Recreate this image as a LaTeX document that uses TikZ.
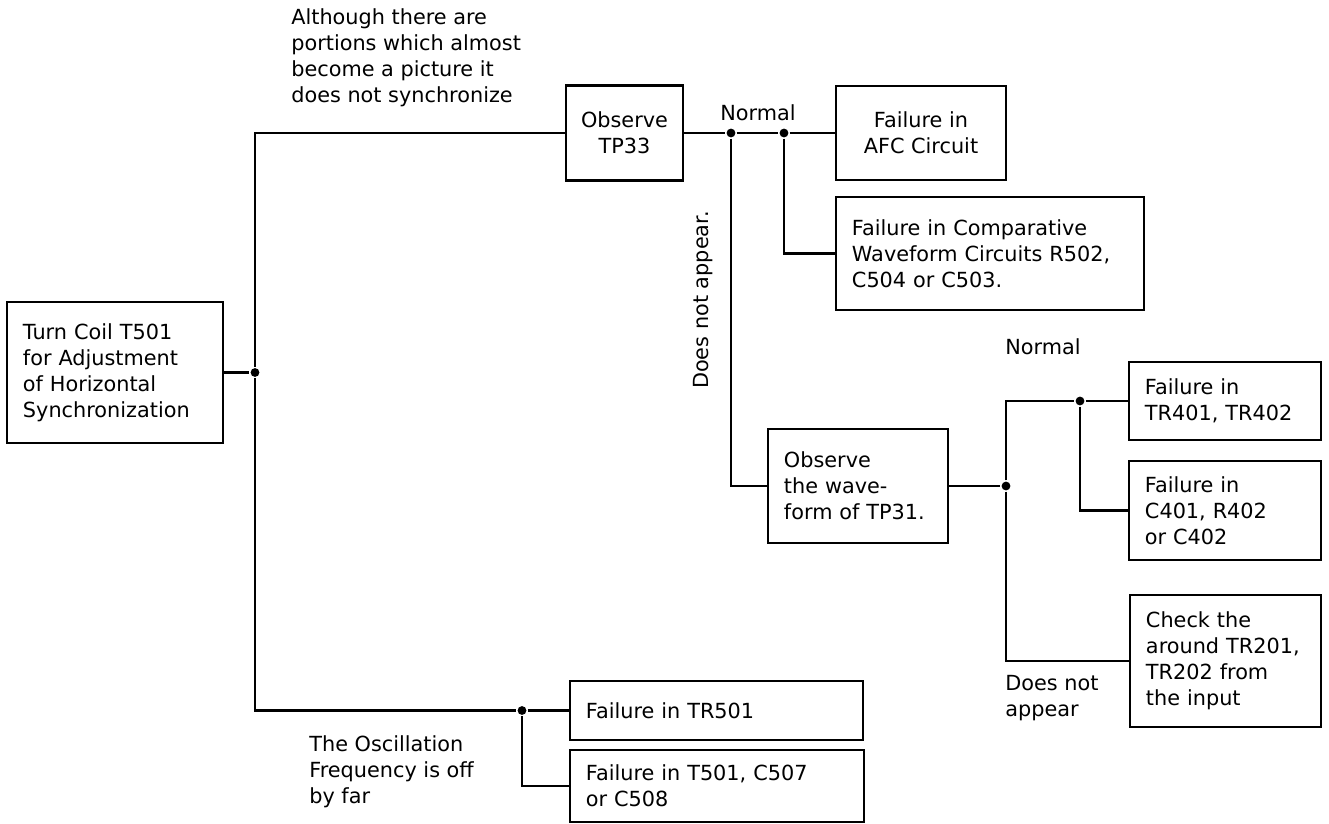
\documentclass[tikz,border=0pt]{standalone}
\usepackage{fontspec}
\setmainfont{DejaVu Sans}
\usetikzlibrary{positioning}
\tikzset{
  every picture/.style = {
    x=0.025cm, y=-0.025cm,
    line width=1.9pt,
    font=\fontsize{14.8}{18.5}\selectfont
  },
  fbox/.style={
    draw,
    inner xsep=0.4cm,
    inner ysep=0pt,
    align=left
  },
  cbox/.style={
    draw,
    inner sep=0pt,
    align=center
  },
  lbl/.style={
    inner sep=0pt,
    align=left
  },
  joint/.style={
    circle, fill, inner sep=0pt, minimum size=0.22cm
  }
}
\begin{document}
\begin{tikzpicture}
    \path[use as bounding box] (0,0) rectangle (1329,823);
    \node[fbox, text width=4.6cm, minimum height=3.525cm] (turn) at (115,372.5) {Turn Coil T501\\for Adjustment\\of Horizontal\\Synchronization};
    \node[cbox, minimum width=2.925cm, minimum height=2.375cm] (tpa) at (624.5,133) {Observe\\TP33};
    \node[cbox, minimum width=4.25cm, minimum height=2.35cm] (afc) at (921,133) {Failure in\\AFC Circuit};
    \node[fbox, text width=6.9cm, minimum height=2.825cm] (comp) at (990,253.5) {Failure in Comparative\\Waveform Circuits R502,\\C504 or C503.};
    \node[fbox, text width=3.7cm, minimum height=2.85cm] (tpb) at (858,486) {Observe\\the wave-\\form of TP31.};
    \node[fbox, text width=4cm, minimum height=1.95cm] (tra) at (1225,401) {Failure in\\TR401, TR402};
    \node[fbox, text width=4cm, minimum height=2.475cm] (trb) at (1225,510.5) {Failure in\\C401, R402\\or C402};
    \node[fbox, text width=3.975cm, minimum height=3.3cm] (chk) at (1225.5,661) {Check the\\around TR201,\\TR202 from\\the input};
    \node[fbox, text width=6.525cm, minimum height=1.475cm] (tfa) at (716.5,710.5) {Failure in TR501};
    \node[fbox, text width=6.55cm, minimum height=1.8cm] (tfb) at (717,786) {Failure in T501, C507\\or C508};
    \node[joint] (jA) at (255,372.5) {};
    \node[joint] (jB) at (731,133) {};
    \node[joint] (jC) at (784,133) {};
    \node[joint] (jD) at (1006,486) {};
    \node[joint] (jE) at (1080,401) {};
    \node[joint] (jF) at (522,710.5) {};
    \coordinate (cTop) at (255,133);
    \coordinate (cBot) at (255,710.5);
    \coordinate (cUp) at (1006,401);
    \draw (turn.east) -- (jA);
    \draw (tpa.west) -- (cTop) -- (jA) -- (cBot) -- (jF) -- (tfa.west);
    \draw (jF) |- (tfb.west);
    \draw (tpa.east) -- (jB) -- (jC) -- (afc.west);
    \draw (jC) |- (comp.west);
    \draw (jB) |- (tpb.west);
    \draw (tpb.east) -- (jD);
    \draw (jD) -- (cUp) -- (jE) -- (tra.west);
    \draw (jD) |- (chk.west);
    \draw (jE) |- (trb.west);
    \node[lbl, anchor=west] (note) at (290,58) {Although there are\\portions which almost\\become a picture it\\does not synchronize};
    \node[lbl] (okA) at (758,113) {Normal};
    \node[lbl, rotate=90] (noA) at (703,300) {Does not appear.};
    \node[lbl] (okB) at (1043,347) {Normal};
    \node[lbl, anchor=west] (noB) at (1004,698) {Does not\\appear};
    \node[lbl, anchor=west] (osc) at (308,772) {The Oscillation\\Frequency is off\\by far};
\end{tikzpicture}
\end{document}
